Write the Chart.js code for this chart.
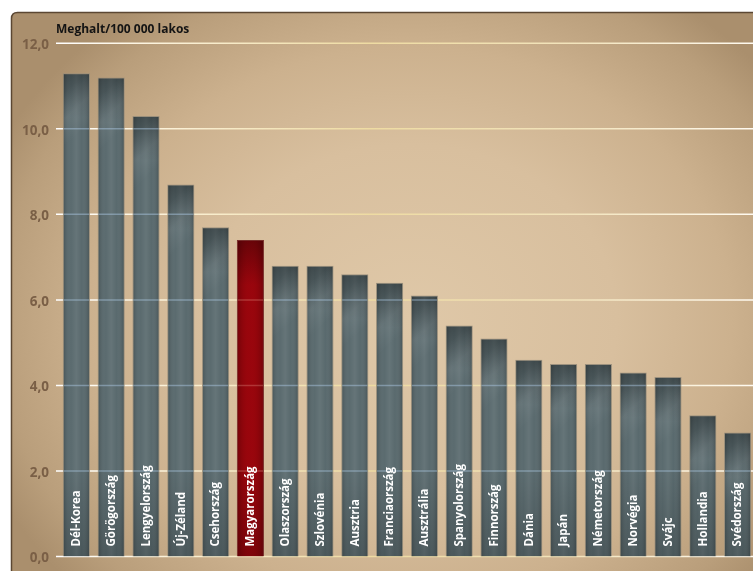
<!DOCTYPE html>
<html lang="hu">
<head>
<meta charset="utf-8">
<title>Meghalt/100 000 lakos</title>
<script src="https://cdn.jsdelivr.net/npm/chart.js@4/dist/chart.umd.min.js"></script>
<style>
  html, body { margin: 0; padding: 0; background: #ffffff; overflow: hidden; }
  #wrap { position: relative; width: 753px; height: 571px; overflow: hidden; }
  #chart { position: absolute; left: 0; top: 0; }
</style>
</head>
<body>
<div id="wrap"><canvas id="chart" width="762" height="571"></canvas></div>
<script>
// Halálozás 100 000 lakosra vetítve, országonként
const categories = ['Dél-Korea', 'Görögország', 'Lengyelország', 'Új-Zéland', 'Csehország',
  'Magyarország', 'Olaszország', 'Szlovénia', 'Ausztria', 'Franciaország', 'Ausztrália',
  'Spanyolország', 'Finnország', 'Dánia', 'Japán', 'Németország', 'Norvégia', 'Svájc',
  'Hollandia', 'Svédország'];
const values = [11.3, 11.2, 10.3, 8.7, 7.7, 7.4, 6.8, 6.8, 6.6, 6.4, 6.1, 5.4, 5.1, 4.6, 4.5, 4.5, 4.3, 4.2, 3.3, 2.9];
const highlighted = 'Magyarország';
const yTicks = [0, 2, 4, 6, 8, 10, 12];
const unitLabel = 'Meghalt/100 000 lakos';

const SLATE = '#546569';
const RED = '#90040c';
const FONT = '"Open Sans", "DejaVu Sans", sans-serif';

// Keretes, barna háttér
const backgroundPlugin = {
  id: 'paperBackground',
  beforeDraw(chart) {
    const ctx = chart.ctx;
    const W = chart.width, H = chart.height;
    ctx.save();
    ctx.fillStyle = '#ffffff';
    ctx.fillRect(0, 0, W, H);
    const x0 = 11.5, y0 = 12.5, r = 6;
    const x1 = W + 20, y1 = H + 20;
    ctx.beginPath();
    ctx.moveTo(x0 + r, y0);
    ctx.lineTo(x1, y0);
    ctx.lineTo(x1, y1);
    ctx.lineTo(x0, y1);
    ctx.lineTo(x0, y0 + r);
    ctx.quadraticCurveTo(x0, y0, x0 + r, y0);
    ctx.closePath();
    ctx.save();
    ctx.clip();
    const cx = 410, cy = 320, rx = 460, ry = 390;
    ctx.translate(cx, cy);
    ctx.scale(rx / ry, 1);
    const g = ctx.createRadialGradient(0, 0, 0, 0, 0, ry);
    g.addColorStop(0, '#dfc8a8');
    g.addColorStop(0.45, '#d8bf9e');
    g.addColorStop(0.7, '#ccb18e');
    g.addColorStop(0.9, '#b99e7b');
    g.addColorStop(1, '#aa8f6d');
    ctx.fillStyle = g;
    ctx.fillRect(-cx * 2, -cy * 2, W * 3, H * 3);
    ctx.restore();
    ctx.lineWidth = 1.5;
    ctx.strokeStyle = '#5b4733';
    ctx.stroke();
    ctx.restore();
  }
};

// Vízszintes rácsvonalak, oszlopfelületek és feliratok
const gridPlugin = {
  id: 'creamGrid',
  beforeDatasetsDraw(chart) {
    const ctx = chart.ctx;
    const y = chart.scales.y;
    const area = chart.chartArea;
    const xStart = area.left - 3, xEnd = chart.width;
    ctx.save();
    const g = ctx.createLinearGradient(xStart, 0, 753, 0);
    g.addColorStop(0, '#ffffff');
    g.addColorStop(0.15, '#fbf2da');
    g.addColorStop(0.45, '#eedba2');
    g.addColorStop(0.75, '#f2e4bd');
    g.addColorStop(1, '#fffaf0');
    ctx.strokeStyle = g;
    ctx.lineWidth = 1.5;
    y.ticks.forEach(t => {
      const py = y.getPixelForValue(t.value);
      ctx.beginPath();
      ctx.moveTo(xStart, py);
      ctx.lineTo(xEnd, py);
      ctx.stroke();
    });
    ctx.fillStyle = '#141414';
    ctx.font = 'bold 12px ' + FONT;
    ctx.textAlign = 'left';
    ctx.textBaseline = 'alphabetic';
    ctx.fillText(unitLabel, xStart, area.top - 10.5);
    ctx.restore();
  },
  afterDatasetsDraw(chart) {
    const ctx = chart.ctx;
    const yScale = chart.scales.y;
    const meta = chart.getDatasetMeta(0);
    ctx.save();
    meta.data.forEach((bar, i) => {
      const isRed = chart.data.labels[i] === highlighted;
      const left = bar.x - bar.width / 2;
      const w = bar.width;
      const top = bar.y, base = bar.base;
      const h = base - top;
      ctx.save();
      ctx.beginPath();
      ctx.rect(left + 1, top + 1, w - 2, h - 1);
      ctx.clip();
      // column sheen
      const hg = ctx.createLinearGradient(left, 0, left + w, 0);
      if (isRed) {
        hg.addColorStop(0, 'rgba(40,0,0,0.30)');
        hg.addColorStop(0.5, 'rgba(255,20,20,0.08)');
        hg.addColorStop(1, 'rgba(40,0,0,0.30)');
      } else {
        hg.addColorStop(0, 'rgba(0,0,0,0.20)');
        hg.addColorStop(0.3, 'rgba(255,255,255,0.04)');
        hg.addColorStop(0.5, 'rgba(255,255,255,0.10)');
        hg.addColorStop(0.7, 'rgba(255,255,255,0.03)');
        hg.addColorStop(1, 'rgba(0,0,0,0.22)');
      }
      ctx.fillStyle = hg;
      ctx.fillRect(left, top, w, h);
      // darker cap
      const tg = ctx.createLinearGradient(0, top, 0, top + 45);
      tg.addColorStop(0, 'rgba(0,0,0,0.32)');
      tg.addColorStop(1, 'rgba(0,0,0,0)');
      ctx.fillStyle = tg;
      ctx.fillRect(left, top, w, Math.min(45, h));
      if (!isRed) {
        // diagonal highlight
        const dg = ctx.createLinearGradient(left, top + 20, left + w, top + 50);
        dg.addColorStop(0, 'rgba(255,255,255,0)');
        dg.addColorStop(0.5, 'rgba(255,255,255,0.07)');
        dg.addColorStop(1, 'rgba(255,255,255,0)');
        ctx.fillStyle = dg;
        ctx.fillRect(left, top, w, Math.min(80, h));
      }
      // darker foot
      const bg = ctx.createLinearGradient(0, base - 90, 0, base);
      bg.addColorStop(0, 'rgba(0,0,0,0)');
      bg.addColorStop(1, 'rgba(0,0,0,0.18)');
      ctx.fillStyle = bg;
      ctx.fillRect(left, base - 90, w, 90);
      // grid lines seen through the bar
      ctx.strokeStyle = isRed ? 'rgba(255,200,180,0.25)' : 'rgba(175,205,232,0.45)';
      ctx.lineWidth = 1.5;
      yScale.ticks.forEach(t => {
        const py = yScale.getPixelForValue(t.value);
        if (py > top && py < base - 1) {
          ctx.beginPath();
          ctx.moveTo(left, py);
          ctx.lineTo(left + w, py);
          ctx.stroke();
        }
      });
      ctx.restore();
      // country name inside the bar
      ctx.save();
      ctx.translate(bar.x, base - 10);
      ctx.rotate(-Math.PI / 2);
      ctx.fillStyle = '#ffffff';
      ctx.font = 'bold 11.5px ' + FONT;
      ctx.textAlign = 'left';
      ctx.textBaseline = 'middle';
      ctx.fillText(chart.data.labels[i], 0, 0.5);
      ctx.restore();
    });
    ctx.restore();
  }
};

new Chart(document.getElementById('chart'), {
  type: 'bar',
  data: {
    labels: categories,
    datasets: [{
      data: values,
      backgroundColor: categories.map(c => c === highlighted ? RED : SLATE),
      borderColor: categories.map(c => c === highlighted ? 'rgba(110,30,30,0.9)' : 'rgba(150,140,122,0.9)'),
      borderWidth: 1,
      barPercentage: 0.78,
      categoryPercentage: 1.0
    }]
  },
  options: {
    responsive: false,
    animation: false,
    devicePixelRatio: 1,
    layout: { padding: { left: 0, right: 7, top: 43.3, bottom: 14.5 } },
    plugins: { legend: { display: false }, tooltip: { enabled: false }, title: { display: false } },
    scales: {
      x: { type: 'category', display: false, offset: true, grid: { display: false } },
      y: {
        min: 0, max: 12,
        afterFit(scale) { scale.width = 59; },
        afterBuildTicks(scale) { scale.ticks = yTicks.map(v => ({ value: v })); },
        border: { display: false },
        // tick marks are hidden; their length only spaces the labels from the plot
        grid: { display: false, drawTicks: true, tickLength: 10 },
        ticks: {
          padding: 0,
          labelOffset: 2,
          color: '#7a5f46',
          font: { family: FONT, weight: 'bold', size: 13.5 },
          callback: v => v.toFixed(1).replace('.', ',')
        }
      }
    }
  },
  plugins: [backgroundPlugin, gridPlugin]
});
</script>
</body>
</html>
